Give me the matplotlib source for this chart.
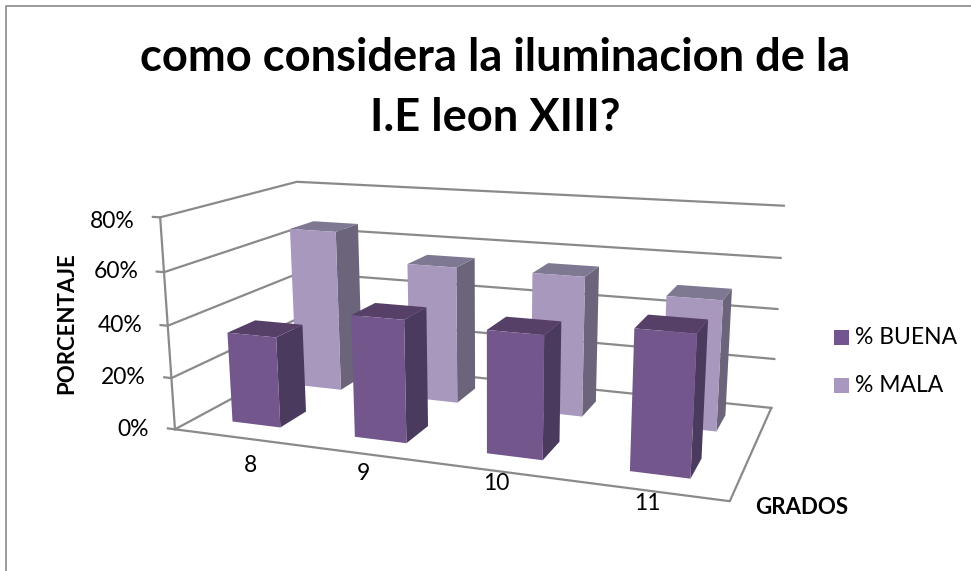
import numpy as np
import matplotlib
matplotlib.use('Agg')
from matplotlib import pyplot as plt
from matplotlib.lines import Line2D
from matplotlib.patches import Rectangle

W, H = 971, 571
plt.rcParams['font.family'] = ['Lato', 'DejaVu Sans']

categories = ['8', '9', '10', '11']
buena = [0.35, 0.46, 0.45, 0.50]
mala = [0.66, 0.55, 0.55, 0.50]
ticks = [0.0, 0.2, 0.4, 0.6, 0.8]
tick_labels = ['0%', '20%', '40%', '60%', '80%']
title_lines = ['como considera la iluminacion de la', 'I.E leon XIII?']

# where the corners of the 3d box sit on the picture, in pixels
box_corners = [((0, 0, 0), (174, 428)), ((4, 0, 0), (730, 502)),
               ((4, 1, 0), (771, 407)), ((0, 1, 0), (305, 361)),
               ((0, 0, .8), (161, 218)), ((0, 1, .8), (296, 181)),
               ((4, 1, .8), (784, 206))]

fig = plt.figure(figsize=(W / 100, H / 100), dpi=100, facecolor='white')
ax = fig.add_axes([-0.2, -0.5, 1.4, 2.0], projection='3d', computed_zorder=False)
ax.set_axis_off()
ax.set_xlim(0, 4)
ax.set_ylim(0, 1)
ax.set_zlim(0, 0.8)
ax.apply_aspect()


def fit_camera():
    # solve the projection matrix from the box corners
    rows = []
    for (x, y, z), (px, py) in box_corners:
        u, v = ax.transData.inverted().transform((px, H - py))
        rows.append([x, y, z, 1, 0, 0, 0, 0, -u * x, -u * y, -u * z, -u])
        rows.append([0, 0, 0, 0, x, y, z, 1, -v * x, -v * y, -v * z, -v])
    p = np.linalg.svd(np.array(rows, dtype=float))[2][-1]
    p = p / p[11]
    # third row is only the depth order, far faces get drawn first
    return np.array([p[:4], p[4:8], [0, 0.5, 0, -1], p[8:]])


M = fit_camera()
ax.get_proj = lambda: M

line_col = '#8a8a8a'
for t in ticks:
    ax.plot([-0.06, 0, 0, 4], [0, 0, 1, 1], [t, t, t, t], color=line_col, lw=1.6, zorder=1)
ax.plot([0, 0], [0, 0], [0, 0.8], color=line_col, lw=1.6, zorder=1)
ax.plot([0, 4, 4], [0, 0, 1], [0, 0, 0], color=line_col, lw=1.6, zorder=1)


def faces(front, top, side):
    # bottom, top, front, back, left, right - the hidden ones stay see through
    none = (0, 0, 0, 0)
    return [none, top, front, none, none, side]


xs = np.arange(4) + 0.3
ax.bar3d(xs, np.full(4, 0.65), np.zeros(4), 0.4, 0.2, mala, shade=False, linewidth=0,
         color=faces('#a898be', '#7f7892', '#6b647a') * 4, zorder=2)
ax.bar3d(xs, np.full(4, 0.15), np.zeros(4), 0.4, 0.2, buena, shade=False, linewidth=0,
         color=faces('#72568c', '#574068', '#4a3a5e') * 4, zorder=3)


def txt(px, py, s, **kw):
    fig.text(px / W, 1 - py / H, s, **kw)


for line, py in zip(title_lines, [58, 118]):
    txt(495, py, line, fontsize=32.6, fontweight='bold', ha='center', va='center')
for lab, py, px in zip(tick_labels, [430, 377, 325, 272, 221], [149, 146, 142, 139, 135]):
    txt(px, py, lab, fontsize=16.5, ha='right', va='center')
for lab, px, py in zip(categories, [250, 363, 496, 647], [465, 474, 484, 503]):
    txt(px, py, lab, fontsize=16.5, ha='center', va='center')
txt(67, 323, 'PORCENTAJE', fontsize=16, fontweight='bold', rotation=90, ha='center', va='center')
txt(802, 508, 'GRADOS', fontsize=16, fontweight='bold', ha='center', va='center')

for lab, col, py in zip(['% BUENA', '% MALA'], ['#72558f', '#a898bf'], [337.5, 385.5]):
    fig.add_artist(Rectangle((834 / W, 1 - (py + 7.5) / H), 15 / W, 15 / H, transform=fig.transFigure,
                             facecolor=col, edgecolor='none'))
    txt(855, py, lab, fontsize=16.5, ha='left', va='center')

# chart border, only top and left show on the crop
fig.add_artist(Line2D([6 / W, 6 / W, 1], [0, 1 - 6 / H, 1 - 6 / H], color='#9a9a9a', lw=1.4))

fig.savefig('out.png', dpi=100)
